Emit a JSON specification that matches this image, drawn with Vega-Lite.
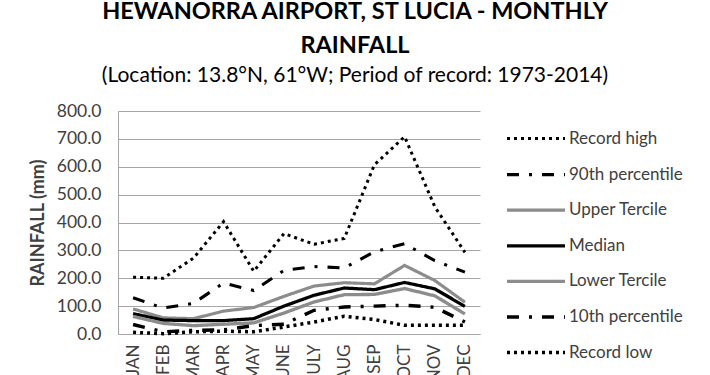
{
  "$schema": "https://vega.github.io/schema/vega-lite/v6.json",
  "width": 362,
  "height": 223,
  "autosize": {"type": "none"},
  "padding": {"left": 118, "top": 111, "right": 230, "bottom": 41},
  "background": "white",
  "title": {
    "text": ["HEWANORRA AIRPORT, ST LUCIA - MONTHLY", "RAINFALL"],
    "subtitle": "(Location: 13.8°N, 61°W; Period of record: 1973-2014)",
    "anchor": "middle",
    "dx": 56,
    "offset": 16,
    "font": "Lato",
    "fontSize": 23.5,
    "fontWeight": "bold",
    "lineHeight": 34,
    "color": "#000000",
    "subtitleFont": "Lato",
    "subtitleFontSize": 21,
    "subtitleColor": "#000000",
    "subtitlePadding": 8
  },
  "data": {
    "values": [
      {"month": "JAN", "series": "Record high", "value": 204},
      {"month": "FEB", "series": "Record high", "value": 200},
      {"month": "MAR", "series": "Record high", "value": 272},
      {"month": "APR", "series": "Record high", "value": 403},
      {"month": "MAY", "series": "Record high", "value": 225},
      {"month": "JUNE", "series": "Record high", "value": 360},
      {"month": "JULY", "series": "Record high", "value": 322},
      {"month": "AUG", "series": "Record high", "value": 343},
      {"month": "SEP", "series": "Record high", "value": 607},
      {"month": "OCT", "series": "Record high", "value": 708},
      {"month": "NOV", "series": "Record high", "value": 457},
      {"month": "DEC", "series": "Record high", "value": 293},
      {"month": "JAN", "series": "90th percentile", "value": 130},
      {"month": "FEB", "series": "90th percentile", "value": 93},
      {"month": "MAR", "series": "90th percentile", "value": 110},
      {"month": "APR", "series": "90th percentile", "value": 183},
      {"month": "MAY", "series": "90th percentile", "value": 156},
      {"month": "JUNE", "series": "90th percentile", "value": 228},
      {"month": "JULY", "series": "90th percentile", "value": 242},
      {"month": "AUG", "series": "90th percentile", "value": 237},
      {"month": "SEP", "series": "90th percentile", "value": 295},
      {"month": "OCT", "series": "90th percentile", "value": 324},
      {"month": "NOV", "series": "90th percentile", "value": 263},
      {"month": "DEC", "series": "90th percentile", "value": 222},
      {"month": "JAN", "series": "Upper Tercile", "value": 90},
      {"month": "FEB", "series": "Upper Tercile", "value": 58},
      {"month": "MAR", "series": "Upper Tercile", "value": 55},
      {"month": "APR", "series": "Upper Tercile", "value": 82},
      {"month": "MAY", "series": "Upper Tercile", "value": 95},
      {"month": "JUNE", "series": "Upper Tercile", "value": 135},
      {"month": "JULY", "series": "Upper Tercile", "value": 172},
      {"month": "AUG", "series": "Upper Tercile", "value": 184},
      {"month": "SEP", "series": "Upper Tercile", "value": 180},
      {"month": "OCT", "series": "Upper Tercile", "value": 246},
      {"month": "NOV", "series": "Upper Tercile", "value": 192},
      {"month": "DEC", "series": "Upper Tercile", "value": 114},
      {"month": "JAN", "series": "Median", "value": 73},
      {"month": "FEB", "series": "Median", "value": 50},
      {"month": "MAR", "series": "Median", "value": 48},
      {"month": "APR", "series": "Median", "value": 48},
      {"month": "MAY", "series": "Median", "value": 55},
      {"month": "JUNE", "series": "Median", "value": 100},
      {"month": "JULY", "series": "Median", "value": 139},
      {"month": "AUG", "series": "Median", "value": 165},
      {"month": "SEP", "series": "Median", "value": 159},
      {"month": "OCT", "series": "Median", "value": 185},
      {"month": "NOV", "series": "Median", "value": 162},
      {"month": "DEC", "series": "Median", "value": 99},
      {"month": "JAN", "series": "Lower Tercile", "value": 63},
      {"month": "FEB", "series": "Lower Tercile", "value": 38},
      {"month": "MAR", "series": "Lower Tercile", "value": 30},
      {"month": "APR", "series": "Lower Tercile", "value": 35},
      {"month": "MAY", "series": "Lower Tercile", "value": 40},
      {"month": "JUNE", "series": "Lower Tercile", "value": 75},
      {"month": "JULY", "series": "Lower Tercile", "value": 115},
      {"month": "AUG", "series": "Lower Tercile", "value": 141},
      {"month": "SEP", "series": "Lower Tercile", "value": 142},
      {"month": "OCT", "series": "Lower Tercile", "value": 163},
      {"month": "NOV", "series": "Lower Tercile", "value": 137},
      {"month": "DEC", "series": "Lower Tercile", "value": 72},
      {"month": "JAN", "series": "10th percentile", "value": 34},
      {"month": "FEB", "series": "10th percentile", "value": 8},
      {"month": "MAR", "series": "10th percentile", "value": 13},
      {"month": "APR", "series": "10th percentile", "value": 15},
      {"month": "MAY", "series": "10th percentile", "value": 30},
      {"month": "JUNE", "series": "10th percentile", "value": 35},
      {"month": "JULY", "series": "10th percentile", "value": 85},
      {"month": "AUG", "series": "10th percentile", "value": 97},
      {"month": "SEP", "series": "10th percentile", "value": 100},
      {"month": "OCT", "series": "10th percentile", "value": 103},
      {"month": "NOV", "series": "10th percentile", "value": 96},
      {"month": "DEC", "series": "10th percentile", "value": 43},
      {"month": "JAN", "series": "Record low", "value": 6},
      {"month": "FEB", "series": "Record low", "value": 1},
      {"month": "MAR", "series": "Record low", "value": 8},
      {"month": "APR", "series": "Record low", "value": 10},
      {"month": "MAY", "series": "Record low", "value": 8},
      {"month": "JUNE", "series": "Record low", "value": 25},
      {"month": "JULY", "series": "Record low", "value": 43},
      {"month": "AUG", "series": "Record low", "value": 64},
      {"month": "SEP", "series": "Record low", "value": 52},
      {"month": "OCT", "series": "Record low", "value": 31},
      {"month": "NOV", "series": "Record low", "value": 31},
      {"month": "DEC", "series": "Record low", "value": 31}
    ]
  },
  "mark": {"type": "line", "strokeJoin": "miter"},
  "encoding": {
    "x": {
      "field": "month",
      "type": "nominal",
      "sort": ["JAN", "FEB", "MAR", "APR", "MAY", "JUNE", "JULY", "AUG", "SEP", "OCT", "NOV", "DEC"],
      "scale": {"type": "point", "padding": 0.5},
      "axis": {
        "title": null,
        "labelAngle": -90,
        "labelFont": "Lato",
        "labelFontSize": 17,
        "labelColor": "#404040",
        "labelPadding": 10,
        "ticks": false,
        "domainColor": "#a6a6a6",
        "domainWidth": 1,
        "grid": false
      }
    },
    "y": {
      "field": "value",
      "type": "quantitative",
      "scale": {"domain": [0, 800], "nice": false},
      "axis": {
        "title": "RAINFALL (mm)",
        "titleFont": "Lato",
        "titleFontSize": 18,
        "titleFontWeight": "bold",
        "titleColor": "#404040",
        "titlePadding": 9,
        "values": [0, 100, 200, 300, 400, 500, 600, 700, 800],
        "format": ".1f",
        "labelFont": "Lato",
        "labelFontSize": 17.5,
        "labelColor": "#404040",
        "labelPadding": 17,
        "ticks": false,
        "domainColor": "#a6a6a6",
        "gridColor": "#a6a6a6",
        "gridWidth": 1
      }
    },
    "color": {
      "field": "series",
      "type": "nominal",
      "scale": {
        "domain": ["Record high", "90th percentile", "Upper Tercile", "Median", "Lower Tercile", "10th percentile", "Record low"],
        "range": ["#000000", "#000000", "#8c8c8c", "#000000", "#8c8c8c", "#000000", "#000000"]
      },
      "legend": {
        "title": null,
        "orient": "none",
        "legendX": 406,
        "legendY": 16,
        "labelFont": "Lato",
        "labelFontSize": 17,
        "labelColor": "#404040",
        "symbolType": "M-2.9,0H2.9",
        "symbolSize": 400,
        "labelOffset": 21,
        "rowPadding": 15.6,
        "padding": 0
      }
    },
    "strokeDash": {
      "field": "series",
      "type": "nominal",
      "scale": {
        "domain": ["Record high", "90th percentile", "Upper Tercile", "Median", "Lower Tercile", "10th percentile", "Record low"],
        "range": [[3, 4], [12, 10, 3, 10], [1, 0], [1, 0], [1, 0], [12, 10, 3, 10], [3, 4]]
      }
    },
    "strokeWidth": {
      "field": "series",
      "type": "nominal",
      "scale": {
        "domain": ["Record high", "90th percentile", "Upper Tercile", "Median", "Lower Tercile", "10th percentile", "Record low"],
        "range": [3, 3.5, 3, 3, 3, 3.5, 3]
      }
    }
  },
  "config": {"view": {"stroke": null}}
}
